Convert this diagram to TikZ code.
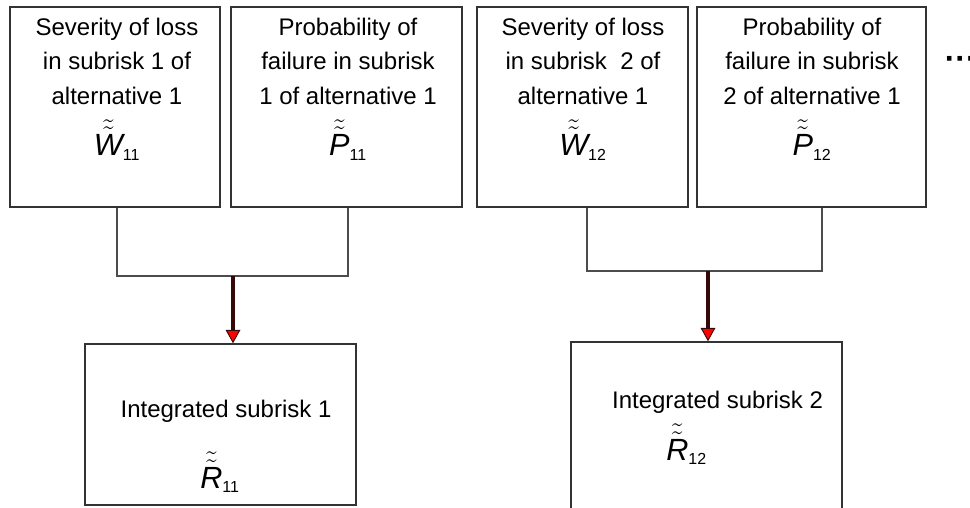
\documentclass[tikz,border=0pt]{standalone}
\usepackage{fontspec}
\setmainfont{Liberation Sans}
\usepackage{amsmath}
\usetikzlibrary{calc,arrows.meta}

% fuzzy quantity with a two-digit index
\newcommand{\riskvar}[2]{{\fontsize{23pt}{26pt}\selectfont
  $\tilde{\tilde{\textit{#1}}}_{\text{\fontsize{12pt}{12pt}\selectfont #2}}$}}

\begin{document}
\begin{tikzpicture}[
  x=0.75pt, y=-0.75pt,
  font=\fontsize{18pt}{26pt}\selectfont,
  box/.style={draw=black!80, line width=1.1pt, inner sep=0pt, minimum height=150pt},
  txt/.style={align=center, inner sep=0pt, anchor=north},
  sym/.style={inner sep=0pt, anchor=base},
  link/.style={draw=black!70, line width=1.1pt},
  flow/.style={draw={rgb,255:red,55;green,8;blue,8}, line width=2.6pt,
               -{Triangle[width=11pt,length=10pt,fill=red,line width=0.7pt]}}
]
  \useasboundingbox (0,0) rectangle (970,507);
  \clip (0,0) rectangle (970,507);

  % input boxes, alternative 1
  \node[box, minimum width=157.5pt]  (sev1)  at (115,107)   {};
  \node[box, minimum width=173.25pt] (prob1) at (346.5,107) {};
  \node[box, minimum width=158.25pt] (sev2)  at (582.5,107) {};
  \node[box, minimum width=171.75pt] (prob2) at (811.5,107) {};

  \node[txt] (sev1t)  at (117,17.5) {Severity of loss\\ in subrisk 1 of\\ alternative 1\\[10pt]
    \riskvar{W}{11}};
  \node[txt] (prob1t) at (348,17.5) {Probability of\\ failure in subrisk\\ 1 of alternative 1\\[10pt]
    \riskvar{P}{11}};
  \node[txt] (sev2t)  at (583,17.5) {Severity of loss\\ in subrisk~ 2 of\\ alternative 1\\[10pt]
    \riskvar{W}{12}};
  \node[txt] (prob2t) at (812,17.5) {Probability of\\ failure in subrisk\\ 2 of alternative 1\\[10pt]
    \riskvar{P}{12}};

  \node[sym, anchor=base west, font=\fontsize{24pt}{26pt}\selectfont\bfseries] (more) at (944.5,69) {···};

  % integrated subrisks
  \node[box, minimum width=203.25pt, minimum height=120.75pt] (int1) at (220.5,424.5) {};
  \node[box, minimum width=203.25pt, minimum height=133.5pt]  (int2) at (706.5,431)   {};

  \node[txt] (int1t) at (226,399.5) {Integrated subrisk 1};
  \node[sym] (int1s) at (220,488) {\riskvar{R}{11}};
  \node[txt] (int2t) at (717.5,390.5) {Integrated subrisk 2};
  \node[sym, anchor=base west] (int2s) at (666,460) {\riskvar{R}{12}};

  % joins and arrows
  \coordinate (j1) at (233,276);
  \coordinate (j2) at (708,271);
  \draw[link] ($(sev1.south)+(2,0)$) |- (j1) -| ($(prob1.south)+(1.5,0)$);
  \draw[link] ($(sev2.south)+(4.5,0)$) |- (j2) -| ($(prob2.south)+(10.5,0)$);
  \draw[flow] (j1) -- (j1 |- int1.north);
  \draw[flow] (j2) -- (j2 |- int2.north);
\end{tikzpicture}
\end{document}
